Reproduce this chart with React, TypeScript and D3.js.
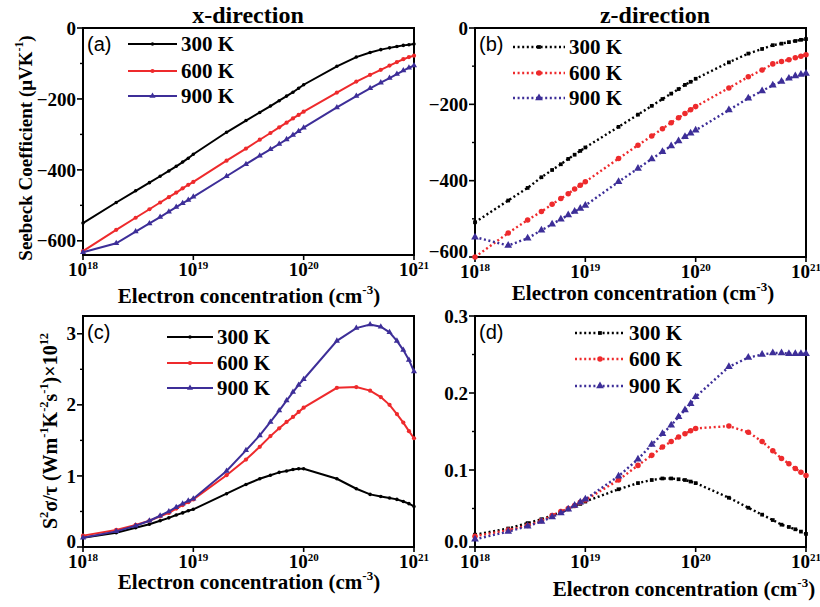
import React, { useEffect, useRef } from "react";
import * as d3 from "d3";

// electron concentration grid (cm^-3)
const concentration = [
  1e18, 2e18, 3e18, 4e18, 5e18, 6e18, 7e18, 8e18, 9e18,
  1e19, 2e19, 3e19, 4e19, 5e19, 6e19, 7e19, 8e19, 9e19,
  1e20, 2e20, 3e20, 4e20, 5e20, 6e20, 7e20, 8e20, 9e20,
  1e21,
];

const temperatures = ["300 K", "600 K", "900 K"];
const colors = ["#000000", "#ee2a2c", "#3d2e98"];

// Seebeck coefficient, x-direction (uV/K)
const seebeckX300 = [-550, -492, -459, -436, -418, -403, -390, -378, -367, -356, -294, -261, -238, -220, -205, -192, -181, -170, -160, -108, -82, -69, -61, -56, -52, -49, -47, -45];
const seebeckX600 = [-629, -569, -535, -511, -492, -477, -464, -452, -442, -434, -374, -340, -315, -296, -280, -267, -255, -245, -236, -182, -151, -132, -118, -106, -96, -88, -82, -78];
const seebeckX900 = [-632, -607, -574, -551, -533, -518, -505, -494, -485, -476, -418, -384, -360, -342, -327, -314, -302, -291, -281, -224, -192, -170, -154, -141, -130, -120, -112, -106];

// Seebeck coefficient, z-direction
const seebeckZ300 = [-509, -452, -419, -391, -372, -357, -343, -332, -322, -313, -259, -227, -204, -186, -172, -160, -149, -141, -133, -90, -67, -55, -45, -41, -37, -34, -31, -29];
const seebeckZ600 = [-600, -537, -503, -481, -462, -447, -434, -422, -412, -403, -342, -307, -283, -264, -248, -235, -224, -214, -206, -157, -128, -110, -94, -88, -83, -78, -74, -70];
const seebeckZ900 = [-548, -570, -551, -530, -514, -501, -490, -481, -473, -465, -403, -368, -343, -324, -309, -296, -285, -276, -268, -215, -184, -165, -150, -140, -132, -126, -122, -119];

// power factor S^2 sigma/tau, x-direction (x10^12)
const pfX300 = [0.13, 0.2, 0.27, 0.32, 0.37, 0.41, 0.45, 0.48, 0.51, 0.53, 0.75, 0.88, 0.96, 1.01, 1.05, 1.07, 1.09, 1.1, 1.1, 0.96, 0.82, 0.74, 0.71, 0.69, 0.67, 0.64, 0.61, 0.57];
const pfX600 = [0.16, 0.24, 0.31, 0.37, 0.43, 0.48, 0.54, 0.59, 0.63, 0.67, 1.01, 1.23, 1.41, 1.56, 1.67, 1.76, 1.83, 1.9, 1.96, 2.24, 2.25, 2.2, 2.11, 2.0, 1.87, 1.75, 1.63, 1.53];
const pfX900 = [0.13, 0.22, 0.3, 0.37, 0.44, 0.5, 0.56, 0.61, 0.65, 0.68, 1.07, 1.36, 1.57, 1.76, 1.92, 2.06, 2.18, 2.28, 2.36, 2.9, 3.08, 3.13, 3.1, 3.02, 2.9, 2.77, 2.63, 2.47];

// power factor, z-direction
const pfZ300 = [0.016, 0.024, 0.031, 0.036, 0.041, 0.045, 0.049, 0.053, 0.056, 0.059, 0.075, 0.083, 0.087, 0.089, 0.089, 0.088, 0.087, 0.085, 0.083, 0.064, 0.051, 0.042, 0.035, 0.029, 0.026, 0.023, 0.02, 0.017];
const pfZ600 = [0.014, 0.022, 0.028, 0.034, 0.041, 0.046, 0.05, 0.054, 0.058, 0.061, 0.087, 0.106, 0.119, 0.13, 0.137, 0.143, 0.147, 0.151, 0.154, 0.157, 0.149, 0.137, 0.125, 0.115, 0.108, 0.102, 0.097, 0.093];
const pfZ900 = [0.01, 0.02, 0.027, 0.033, 0.039, 0.044, 0.049, 0.054, 0.058, 0.062, 0.092, 0.114, 0.133, 0.147, 0.158, 0.169, 0.178, 0.186, 0.195, 0.234, 0.246, 0.25, 0.252, 0.252, 0.251, 0.251, 0.251, 0.251];

const xTicks = [1e18, 1e19, 1e20, 1e21];
const xTickExp = ["18", "19", "20", "21"];
const seebeckTicks = [0, -200, -400, -600];
const seebeckMinor = [-100, -300, -500];
const pfXTicks = [0, 1, 2, 3];
const pfXMinor = [0.5, 1.5, 2.5];
const pfZTicks = [0.0, 0.1, 0.2, 0.3];
const pfZMinor = [0.05, 0.15, 0.25];

const SERIF = "'Liberation Serif', 'Times New Roman', serif";
const SANS = "'Liberation Sans', Arial, sans-serif";

const panels = [
  { id: "a", left: 83, right: 414, top: 28, bottom: 255, domain: [-640, 0], series: [seebeckX300, seebeckX600, seebeckX900], ticks: seebeckTicks, minor: seebeckMinor, fmt: d3.format("d"), dotted: false, legend: { x1: 128, x2: 177, ys: [44, 71, 96] }, xlab: { x: 249, y: 303 } },
  { id: "b", left: 475, right: 806, top: 28, bottom: 257, domain: [-600, 0], series: [seebeckZ300, seebeckZ600, seebeckZ900], ticks: seebeckTicks, minor: seebeckMinor, fmt: d3.format("d"), dotted: true, legend: { x1: 513, x2: 565, ys: [47, 73, 98] }, xlab: { x: 643, y: 300 } },
  { id: "c", left: 83, right: 414, top: 316, bottom: 547, domain: [0, 3.25], series: [pfX300, pfX600, pfX900], ticks: pfXTicks, minor: pfXMinor, fmt: d3.format("d"), dotted: false, legend: { x1: 167, x2: 213, ys: [337, 363, 388] }, xlab: { x: 249, y: 589 } },
  { id: "d", left: 475, right: 806, top: 316, bottom: 547, domain: [0, 0.3], series: [pfZ300, pfZ600, pfZ900], ticks: pfZTicks, minor: pfZMinor, fmt: d3.format(".1f"), dotted: true, legend: { x1: 575, x2: 625, ys: [333, 359, 386] }, xlab: { x: 684, y: 596 } },
];

function symbolFor(i: number, dotted: boolean) {
  if (i === 2) return d3.symbol().type(d3.symbolTriangle).size(dotted ? 26 : 16)();
  if (i === 0 && dotted) return d3.symbol().type(d3.symbolSquare).size(14)();
  return d3.symbol().type(d3.symbolCircle).size(dotted ? 24 : (i === 0 ? 10 : 14))();
}

function supText(sel: any, parts: [string, boolean][], size: number) {
  // parts: [text, isSuperscript]
  let up = false;
  parts.forEach(([t, sup]) => {
    const ts = sel.append("tspan").text(t);
    if (sup && !up) { ts.attr("dy", -size * 0.45).attr("font-size", size * 0.62); up = true; }
    else if (sup) { ts.attr("font-size", size * 0.62); }
    else if (!sup && up) { ts.attr("dy", size * 0.45); up = false; }
  });
}

function drawPanel(svg: any, p: any) {
  const x = d3.scaleLog().domain([1e18, 1e21]).range([p.left, p.right]);
  const y = d3.scaleLinear().domain(p.domain).range([p.bottom, p.top]);
  const g = svg.append("g");

  // frame
  g.append("rect")
    .attr("x", p.left).attr("y", p.top)
    .attr("width", p.right - p.left).attr("height", p.bottom - p.top)
    .attr("fill", "none").attr("stroke", "#000").attr("stroke-width", 2);

  // y ticks
  p.ticks.forEach((t: number) => {
    g.append("line").attr("x1", p.left - 6).attr("x2", p.left)
      .attr("y1", y(t)).attr("y2", y(t)).attr("stroke", "#000").attr("stroke-width", 1.6);
    g.append("text").attr("x", p.left - 7).attr("y", y(t)).attr("dy", y(t) > p.bottom - 1 ? "0.05em" : "0.35em")
      .attr("text-anchor", "end").attr("font-family", SERIF).attr("font-weight", "bold")
      .attr("font-size", 19).text(p.fmt(t));
  });
  p.minor.forEach((t: number) => {
    g.append("line").attr("x1", p.left - 3).attr("x2", p.left)
      .attr("y1", y(t)).attr("y2", y(t)).attr("stroke", "#000").attr("stroke-width", 1.4);
  });

  // x ticks
  xTicks.forEach((t, i) => {
    g.append("line").attr("x1", x(t)).attr("x2", x(t))
      .attr("y1", p.bottom).attr("y2", p.bottom + 5).attr("stroke", "#000").attr("stroke-width", 1.6);
    const tx = g.append("text").attr("x", x(t)).attr("y", p.bottom + 21)
      .attr("text-anchor", "middle").attr("font-family", SERIF).attr("font-weight", "bold")
      .attr("font-size", 19);
    tx.append("tspan").text("10");
    tx.append("tspan").attr("dy", -7).attr("font-size", 11).text(xTickExp[i]);
  });

  // x label
  const xl = g.append("text").attr("x", p.xlab.x).attr("y", p.xlab.y)
    .attr("text-anchor", "middle").attr("font-family", SERIF).attr("font-weight", "bold")
    .attr("font-size", 21);
  supText(xl, [["Electron concentration (cm", false], ["-3", true], [")", false]], 21);

  // curves
  const line = d3.line<number>()
    .x((_, i) => x(concentration[i]))
    .y((d) => y(d));
  p.series.forEach((vals: number[], si: number) => {
    g.append("path").attr("d", line(vals)).attr("fill", "none")
      .attr("stroke", colors[si]).attr("stroke-width", p.dotted ? 2.4 : 2)
      .attr("stroke-dasharray", p.dotted ? "2,2.6" : null);
    const sym = symbolFor(si, p.dotted);
    g.selectAll(null).data(vals).enter().append("path")
      .attr("d", sym)
      .attr("transform", (d: number, i: number) => `translate(${x(concentration[i])},${y(d)})`)
      .attr("fill", colors[si]);
  });

  // legend
  temperatures.forEach((label, si) => {
    const ly = p.legend.ys[si];
    g.append("line").attr("x1", p.legend.x1).attr("x2", p.legend.x2)
      .attr("y1", ly).attr("y2", ly).attr("stroke", colors[si])
      .attr("stroke-width", p.dotted ? 2.4 : 2.2)
      .attr("stroke-dasharray", p.dotted ? "2,2.6" : null);
    g.append("path").attr("d", symbolFor(si, p.dotted))
      .attr("transform", `translate(${(p.legend.x1 + p.legend.x2) / 2},${ly})`)
      .attr("fill", colors[si]);
    g.append("text").attr("x", p.legend.x2 + 4).attr("y", ly + 7)
      .attr("font-family", SERIF).attr("font-weight", "bold").attr("font-size", 21)
      .text(label);
  });

  // panel letter
  g.append("text").attr("x", p.left + 4).attr("y", p.top + 23)
    .attr("font-family", SANS).attr("font-size", 20).text(`(${p.id})`);
}

export default function App() {
  const ref = useRef<SVGSVGElement>(null);

  useEffect(() => {
    const svg = d3.select(ref.current);
    svg.selectAll("*").remove();
    panels.forEach((p) => drawPanel(svg, p));

    // titles
    svg.append("text").attr("x", 248).attr("y", 23).attr("text-anchor", "middle")
      .attr("font-family", SERIF).attr("font-weight", "bold").attr("font-size", 24)
      .text("x-direction");
    svg.append("text").attr("x", 655).attr("y", 23).attr("text-anchor", "middle")
      .attr("font-family", SERIF).attr("font-weight", "bold").attr("font-size", 24)
      .text("z-direction");

    // y axis labels
    const ya = svg.append("text").attr("transform", "translate(32,148) rotate(-90)")
      .attr("text-anchor", "middle").attr("font-family", SERIF).attr("font-weight", "bold")
      .attr("font-size", 19);
    supText(ya, [["Seebeck Coefficient (\u03bcVK", false], ["-1", true], [")", false]], 19);

    const yc = svg.append("text").attr("transform", "translate(57,431) rotate(-90)")
      .attr("text-anchor", "middle").attr("font-family", SERIF).attr("font-weight", "bold")
      .attr("font-size", 20);
    supText(yc, [["S", false], ["2", true], ["\u03c3/\u03c4 (Wm", false], ["-1", true], ["K", false], ["-2", true], ["s", false], ["-1", true], [")\u00d710", false], ["12", true]], 20);
  }, []);

  return (
    <svg ref={ref} width={820} height={607}
      style={{ position: "absolute", left: 0, top: 0, background: "#fff" }} />
  );
}
